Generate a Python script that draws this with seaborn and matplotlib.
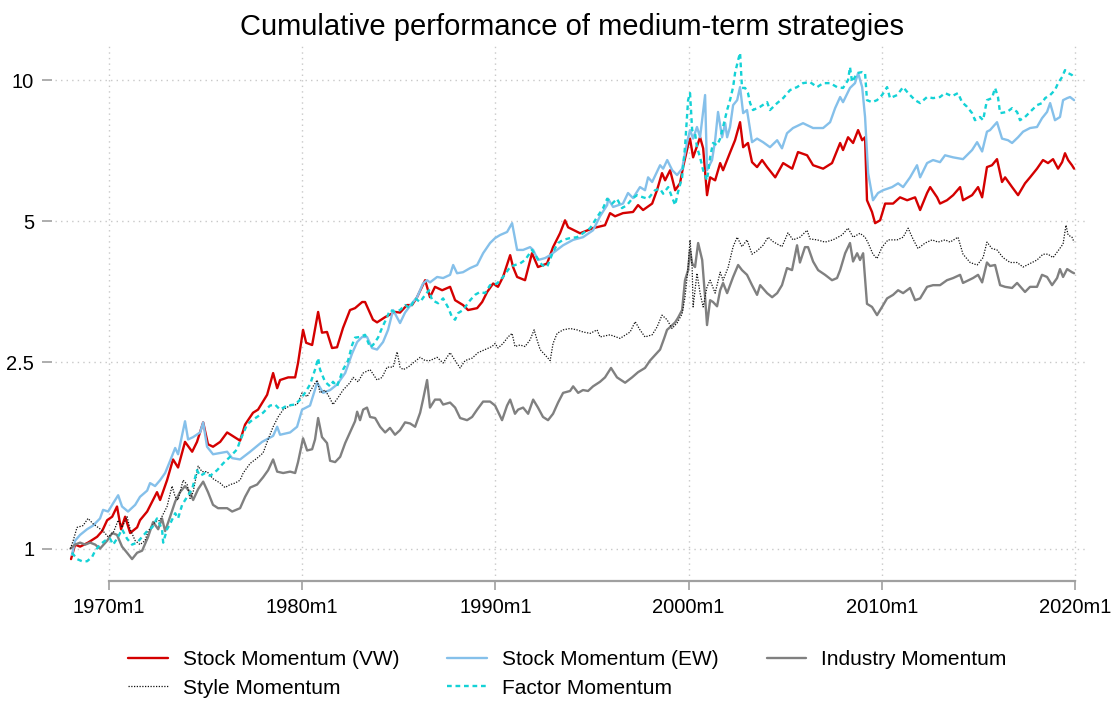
import matplotlib
matplotlib.use("Agg")
import matplotlib.pyplot as plt
import matplotlib.ticker as mticker
import pandas as pd
import seaborn as sns

# --- values (decimal year, cumulative value) ---
vw_years = [
    1968.03, 1968.24, 1968.5, 1968.91, 1969.38, 1969.64, 1969.9, 1970.16, 1970.41, 1970.62,
    1970.83, 1971.09, 1971.45, 1971.6, 1971.97, 1972.48, 1972.64, 1973.0, 1973.31, 1973.57,
    1973.93, 1974.3, 1974.55, 1974.87, 1975.12, 1975.38, 1975.75, 1976.11, 1976.78, 1977.04,
    1977.45, 1977.71, 1978.18, 1978.49, 1978.7, 1978.85, 1979.27, 1979.63, 1979.78, 1980.04,
    1980.2, 1980.51, 1980.82, 1981.02, 1981.28, 1981.54, 1981.8, 1982.11, 1982.47, 1982.73,
    1983.1, 1983.25, 1983.66, 1983.87, 1984.29, 1984.8, 1985.06, 1985.42, 1985.68, 1985.94,
    1986.36, 1986.61, 1986.87, 1987.24, 1987.65, 1987.91, 1988.32, 1988.58, 1989.05, 1989.31,
    1989.57, 1989.88, 1990.13, 1990.39, 1990.76, 1990.91, 1991.12, 1991.53, 1991.89, 1992.2,
    1992.67, 1992.98, 1993.34, 1993.6, 1993.76, 1994.38, 1995.05, 1995.67, 1995.93, 1996.19,
    1996.6, 1997.12, 1997.38, 1997.64, 1998.11, 1998.36, 1998.62, 1998.78, 1999.04, 1999.3,
    1999.55, 1999.71, 1999.97, 2000.07, 2000.23, 2000.59, 2000.75, 2000.95, 2001.11, 2001.37,
    2001.63, 2001.78, 2002.14, 2002.4, 2002.66, 2002.82, 2003.07, 2003.28, 2003.54, 2003.8,
    2004.06, 2004.48, 2004.89, 2005.36, 2005.66, 2006.13, 2006.44, 2006.96, 2007.42, 2007.84,
    2007.99, 2008.25, 2008.51, 2008.77, 2008.98, 2009.13, 2009.23, 2009.49, 2009.65, 2009.91,
    2010.17, 2010.58, 2010.94, 2011.31, 2011.72, 2011.98, 2012.34, 2012.5, 2012.86, 2013.01,
    2013.37, 2013.69, 2014.05, 2014.2, 2014.67, 2014.98, 2015.19, 2015.44, 2015.7, 2015.96,
    2016.22, 2016.38, 2016.74, 2017.05, 2017.41, 2017.67, 2018.03, 2018.34, 2018.6, 2018.86,
    2019.12, 2019.33, 2019.48, 2019.64, 2019.84, 2019.95,
]
vw_values = [
    0.95, 1.02, 1.01, 1.03, 1.06, 1.09, 1.15, 1.17, 1.23, 1.10,
    1.17, 1.08, 1.11, 1.15, 1.20, 1.32, 1.27, 1.40, 1.55, 1.49,
    1.69, 1.61, 1.69, 1.86, 1.67, 1.65, 1.69, 1.77, 1.70, 1.84,
    1.95, 1.98, 2.13, 2.37, 2.20, 2.29, 2.32, 2.32, 2.49, 2.93,
    2.75, 2.72, 3.20, 2.89, 2.90, 2.68, 2.69, 2.96, 3.23, 3.26,
    3.36, 3.36, 3.08, 3.04, 3.12, 3.20, 3.19, 3.31, 3.31, 3.44,
    3.74, 3.44, 3.62, 3.56, 3.62, 3.39, 3.31, 3.23, 3.26, 3.36,
    3.53, 3.68, 3.62, 3.80, 4.23, 3.99, 3.80, 3.74, 4.27, 3.99,
    4.06, 4.40, 4.71, 5.02, 4.85, 4.71, 4.83, 4.90, 5.20, 5.12,
    5.20, 5.23, 5.41, 5.28, 5.45, 5.82, 6.33, 6.11, 6.42, 5.82,
    6.02, 6.52, 7.26, 7.50, 6.84, 7.55, 7.15, 5.68, 6.20, 6.11,
    6.65, 6.42, 7.00, 7.44, 8.13, 7.19, 7.34, 6.68, 6.52, 6.75,
    6.52, 6.20, 6.65, 6.47, 7.02, 6.91, 6.58, 6.47, 6.65, 7.34,
    7.09, 7.55, 7.34, 7.82, 7.44, 7.55, 5.54, 5.23, 4.95, 5.02,
    5.45, 5.45, 5.62, 5.54, 5.62, 5.28, 5.74, 5.91, 5.62, 5.45,
    5.54, 5.68, 5.91, 5.54, 5.68, 5.91, 5.62, 6.52, 6.58, 6.78,
    6.06, 6.20, 5.91, 5.68, 6.02, 6.20, 6.47, 6.75, 6.65, 6.78,
    6.47, 6.68, 6.98, 6.75, 6.58, 6.47,
]

ew_years = [
    1968.08, 1968.24, 1968.5, 1968.86, 1969.17, 1969.53, 1969.69, 1969.95, 1970.21, 1970.47,
    1970.67, 1970.98, 1971.35, 1971.6, 1971.97, 1972.12, 1972.38, 1972.64, 1972.9, 1973.16,
    1973.42, 1973.57, 1973.93, 1974.09, 1974.35, 1974.71, 1974.87, 1975.07, 1975.38, 1975.75,
    1976.11, 1976.37, 1976.78, 1977.3, 1977.92, 1978.49, 1978.7, 1978.85, 1979.37, 1979.73,
    1979.99, 1980.4, 1980.77, 1981.08, 1981.44, 1981.8, 1982.22, 1982.58, 1982.84, 1983.1,
    1983.35, 1983.61, 1983.87, 1984.18, 1984.44, 1984.7, 1985.06, 1985.32, 1985.68, 1985.94,
    1986.25, 1986.46, 1986.61, 1986.98, 1987.29, 1987.65, 1987.81, 1988.01, 1988.32, 1988.69,
    1989.05, 1989.36, 1989.72, 1989.98, 1990.24, 1990.6, 1990.86, 1991.12, 1991.43, 1991.79,
    1991.95, 1992.2, 1992.57, 1992.83, 1993.19, 1993.5, 1994.02, 1994.53, 1995.05, 1995.41,
    1995.78, 1995.83, 1996.09, 1996.6, 1996.86, 1997.12, 1997.48, 1997.74, 1997.9, 1998.11,
    1998.52, 1998.68, 1998.89, 1999.15, 1999.4, 1999.66, 1999.92, 2000.07, 2000.23, 2000.43,
    2000.59, 2000.85, 2000.95, 2001.21, 2001.37, 2001.52, 2001.73, 2001.89, 2001.99, 2002.14,
    2002.3, 2002.51, 2002.66, 2002.82, 2003.02, 2003.28, 2003.54, 2003.85, 2004.21, 2004.58,
    2004.83, 2005.09, 2005.4, 2005.92, 2006.44, 2006.96, 2007.32, 2007.58, 2007.84, 2007.99,
    2008.35, 2008.61, 2008.77, 2008.98, 2009.13, 2009.29, 2009.54, 2009.8, 2010.06, 2010.53,
    2010.84, 2011.1, 2011.46, 2011.82, 2011.98, 2012.34, 2012.65, 2013.01, 2013.27, 2013.69,
    2014.2, 2014.67, 2014.93, 2015.19, 2015.44, 2015.6, 2015.96, 2016.22, 2016.53, 2016.74,
    2017.05, 2017.31, 2017.67, 2018.03, 2018.29, 2018.55, 2018.71, 2018.96, 2019.22, 2019.38,
    2019.59, 2019.74, 2019.95,
]
ew_values = [
    0.97, 1.04, 1.07, 1.10, 1.12, 1.16, 1.21, 1.20, 1.25, 1.30,
    1.23, 1.20, 1.24, 1.29, 1.33, 1.38, 1.36, 1.40, 1.45, 1.54,
    1.64, 1.59, 1.87, 1.71, 1.73, 1.77, 1.86, 1.65, 1.59, 1.60,
    1.61, 1.56, 1.55, 1.61, 1.69, 1.74, 1.82, 1.75, 1.77, 1.82,
    1.98, 2.02, 2.26, 2.15, 2.18, 2.24, 2.37, 2.61, 2.76, 2.83,
    2.83, 2.68, 2.66, 2.76, 2.93, 3.23, 3.03, 3.19, 3.34, 3.44,
    3.68, 3.74, 3.70, 3.80, 3.78, 3.84, 4.03, 3.87, 3.89, 3.97,
    4.03, 4.27, 4.49, 4.60, 4.67, 4.74, 4.95, 4.34, 4.34, 4.40,
    4.34, 4.13, 4.17, 4.23, 4.34, 4.44, 4.56, 4.62, 4.78, 5.12,
    5.41, 5.58, 5.36, 5.45, 5.74, 5.60, 5.91, 5.82, 6.20, 6.06,
    6.58, 6.47, 6.75, 6.42, 6.27, 6.47, 7.37, 7.82, 7.50, 7.94,
    7.55, 9.29, 6.42, 6.75, 7.44, 8.55, 7.55, 8.09, 7.55, 7.94,
    8.84, 9.06, 9.66, 8.50, 8.63, 7.37, 7.50, 7.37, 7.19, 7.44,
    7.15, 7.70, 7.90, 8.09, 7.90, 7.90, 8.13, 8.71, 9.20, 8.97,
    9.62, 9.85, 10.35, 9.66, 8.34, 6.33, 5.54, 5.74, 5.82, 5.91,
    6.02, 5.91, 6.20, 6.58, 6.20, 6.65, 6.75, 6.68, 6.91, 6.84,
    6.78, 7.09, 7.37, 7.04, 7.76, 7.82, 8.13, 7.50, 7.44, 7.34,
    7.55, 7.76, 7.90, 7.94, 8.29, 8.55, 8.93, 8.21, 8.34, 9.06,
    9.15, 9.20, 9.06,
]

industry_years = [
    1968.0, 1968.24, 1968.5, 1968.76, 1969.02, 1969.28, 1969.53, 1969.9, 1970.16, 1970.41,
    1970.67, 1970.93, 1971.19, 1971.45, 1971.71, 1972.02, 1972.28, 1972.54, 1972.74, 1972.9,
    1973.16, 1973.42, 1973.67, 1973.93, 1974.19, 1974.35, 1974.61, 1974.87, 1975.12, 1975.38,
    1975.64, 1976.11, 1976.37, 1976.78, 1977.04, 1977.3, 1977.66, 1977.97, 1978.23, 1978.49,
    1978.7, 1979.01, 1979.37, 1979.63, 1979.78, 1980.04, 1980.25, 1980.51, 1980.66, 1980.82,
    1981.02, 1981.28, 1981.44, 1981.7, 1981.96, 1982.22, 1982.47, 1982.73, 1982.84, 1982.99,
    1983.15, 1983.35, 1983.51, 1983.77, 1984.03, 1984.29, 1984.54, 1984.8, 1985.06, 1985.32,
    1985.58, 1985.84, 1986.1, 1986.25, 1986.46, 1986.61, 1986.87, 1987.13, 1987.29, 1987.65,
    1987.91, 1988.17, 1988.53, 1988.79, 1989.05, 1989.36, 1989.72, 1989.98, 1990.34, 1990.6,
    1990.76, 1991.01, 1991.17, 1991.43, 1991.69, 1991.95, 1992.2, 1992.46, 1992.72, 1992.98,
    1993.24, 1993.5, 1993.86, 1994.02, 1994.28, 1994.53, 1994.79, 1995.05, 1995.41, 1995.67,
    1995.98, 1996.29, 1996.71, 1997.07, 1997.38, 1997.74, 1998.0, 1998.26, 1998.52, 1998.73,
    1998.88, 1999.04, 1999.3, 1999.45, 1999.66, 1999.81, 1999.97, 2000.07, 2000.18, 2000.33,
    2000.49, 2000.7, 2000.85, 2000.95, 2001.11, 2001.26, 2001.47, 2001.63, 2001.78, 2001.99,
    2002.3, 2002.56, 2002.76, 2003.02, 2003.28, 2003.54, 2003.7, 2004.06, 2004.32, 2004.58,
    2004.83, 2005.09, 2005.35, 2005.61, 2005.76, 2006.02, 2006.18, 2006.44, 2006.7, 2007.06,
    2007.42, 2007.68, 2007.84, 2008.1, 2008.35, 2008.51, 2008.72, 2008.87, 2009.03, 2009.23,
    2009.49, 2009.75, 2010.01, 2010.27, 2010.58, 2010.84, 2011.1, 2011.46, 2011.72, 2011.98,
    2012.34, 2012.65, 2013.01, 2013.37, 2013.69, 2014.05, 2014.2, 2014.72, 2014.98, 2015.19,
    2015.44, 2015.6, 2015.86, 2016.12, 2016.38, 2016.74, 2017.0, 2017.41, 2017.67, 2018.03,
    2018.29, 2018.55, 2018.81, 2019.07, 2019.22, 2019.38, 2019.59, 2019.84, 2019.95,
]
industry_values = [
    1.00, 1.02, 1.03, 1.02, 1.03, 1.02, 1.00, 1.04, 1.08, 1.07,
    1.01, 0.98, 0.95, 0.98, 0.99, 1.06, 1.14, 1.10, 1.16, 1.09,
    1.17, 1.26, 1.32, 1.36, 1.32, 1.27, 1.34, 1.39, 1.32, 1.24,
    1.22, 1.22, 1.20, 1.22, 1.29, 1.35, 1.37, 1.42, 1.47, 1.55,
    1.46, 1.45, 1.46, 1.45, 1.53, 1.72, 1.62, 1.63, 1.71, 1.90,
    1.73, 1.68, 1.54, 1.53, 1.57, 1.68, 1.77, 1.87, 1.96, 1.88,
    1.98, 2.00, 1.91, 1.90, 1.82, 1.77, 1.81, 1.75, 1.79, 1.86,
    1.85, 1.82, 1.95, 2.08, 2.29, 2.00, 2.08, 2.08, 2.03, 2.05,
    2.00, 1.90, 1.88, 1.91, 1.98, 2.06, 2.06, 2.02, 1.88, 2.02,
    2.08, 1.94, 1.98, 2.00, 1.94, 2.08, 2.00, 1.91, 1.88, 1.94,
    2.05, 2.15, 2.17, 2.22, 2.15, 2.18, 2.17, 2.22, 2.27, 2.32,
    2.43, 2.32, 2.26, 2.32, 2.38, 2.43, 2.52, 2.59, 2.66, 2.81,
    2.93, 2.97, 3.04, 3.11, 3.23, 3.74, 3.93, 4.34, 4.06, 3.99,
    4.49, 4.13, 3.44, 3.00, 3.39, 3.36, 3.29, 3.56, 3.69, 3.51,
    3.80, 4.03, 3.93, 3.84, 3.65, 3.48, 3.65, 3.51, 3.44, 3.51,
    3.65, 3.97, 3.93, 4.44, 4.08, 4.40, 4.40, 4.10, 3.93, 3.84,
    3.74, 3.78, 3.93, 4.27, 4.49, 4.10, 4.27, 4.13, 4.27, 3.33,
    3.28, 3.15, 3.28, 3.42, 3.48, 3.56, 3.51, 3.60, 3.39, 3.42,
    3.62, 3.65, 3.65, 3.74, 3.78, 3.84, 3.69, 3.78, 3.84, 3.70,
    4.08, 4.01, 4.03, 3.65, 3.62, 3.60, 3.69, 3.53, 3.62, 3.62,
    3.84, 3.80, 3.65, 3.78, 3.95, 3.80, 3.95, 3.89, 3.87,
]

style_years = [
    1968.0, 1968.14, 1968.34, 1968.65, 1968.91, 1969.17, 1969.43, 1969.69, 1969.95, 1970.21,
    1970.47, 1970.67, 1970.93, 1971.09, 1971.35, 1971.6, 1971.86, 1972.02, 1972.38, 1972.64,
    1973.0, 1973.26, 1973.42, 1973.57, 1973.83, 1974.04, 1974.19, 1974.35, 1974.61, 1974.81,
    1975.07, 1975.38, 1975.75, 1976.0, 1976.26, 1976.52, 1976.78, 1976.94, 1977.3, 1977.66,
    1977.97, 1978.23, 1978.49, 1978.75, 1979.01, 1979.37, 1979.73, 1979.99, 1980.25, 1980.56,
    1980.77, 1980.92, 1981.18, 1981.44, 1981.59, 1981.85, 1982.11, 1982.47, 1982.63, 1982.89,
    1983.15, 1983.51, 1983.87, 1984.13, 1984.39, 1984.7, 1984.91, 1985.06, 1985.22, 1985.48,
    1985.73, 1986.1, 1986.36, 1986.61, 1986.98, 1987.29, 1987.65, 1987.91, 1988.17, 1988.43,
    1988.79, 1989.1, 1989.46, 1989.82, 1989.98, 1990.13, 1990.39, 1990.65, 1990.86, 1991.01,
    1991.27, 1991.53, 1991.79, 1992.0, 1992.15, 1992.31, 1992.57, 1992.83, 1992.98, 1993.19,
    1993.5, 1993.86, 1994.22, 1994.53, 1994.9, 1995.26, 1995.41, 1995.93, 1996.45, 1996.97,
    1997.23, 1997.48, 1997.74, 1998.11, 1998.36, 1998.62, 1998.88, 1999.14, 1999.4, 1999.66,
    1999.81, 1999.97, 2000.07, 2000.18, 2000.23, 2000.43, 2000.59, 2000.75, 2000.95, 2001.11,
    2001.37, 2001.63, 2001.78, 2002.04, 2002.3, 2002.51, 2002.76, 2003.02, 2003.28, 2003.54,
    2003.85, 2004.11, 2004.37, 2004.83, 2005.14, 2005.4, 2005.76, 2006.13, 2006.28, 2006.65,
    2007.06, 2007.47, 2007.94, 2008.25, 2008.51, 2008.87, 2009.13, 2009.29, 2009.54, 2009.75,
    2010.01, 2010.32, 2010.79, 2011.1, 2011.36, 2011.61, 2011.87, 2012.24, 2012.6, 2012.91,
    2013.27, 2013.53, 2013.94, 2014.2, 2014.57, 2014.93, 2015.24, 2015.44, 2015.7, 2015.96,
    2016.27, 2016.64, 2017.0, 2017.31, 2017.67, 2018.03, 2018.34, 2018.6, 2018.86, 2019.12,
    2019.38, 2019.53, 2019.64, 2019.84, 2019.95,
]
style_values = [
    1.00, 1.04, 1.11, 1.12, 1.16, 1.13, 1.11, 1.09, 1.06, 1.08,
    1.15, 1.11, 1.17, 1.10, 1.04, 1.02, 1.04, 1.09, 1.14, 1.15,
    1.23, 1.36, 1.29, 1.27, 1.40, 1.37, 1.28, 1.32, 1.50, 1.46,
    1.46, 1.41, 1.38, 1.35, 1.37, 1.38, 1.40, 1.45, 1.52, 1.56,
    1.60, 1.71, 1.82, 1.91, 1.98, 2.02, 2.03, 2.15, 2.11, 2.22,
    2.29, 2.15, 2.18, 2.09, 2.03, 2.10, 2.18, 2.26, 2.32, 2.27,
    2.37, 2.41, 2.29, 2.32, 2.44, 2.44, 2.63, 2.44, 2.41, 2.44,
    2.49, 2.56, 2.52, 2.52, 2.56, 2.49, 2.62, 2.52, 2.43, 2.52,
    2.55, 2.62, 2.66, 2.70, 2.74, 2.68, 2.74, 2.83, 2.88, 2.70,
    2.72, 2.70, 2.79, 2.93, 2.79, 2.66, 2.59, 2.52, 2.74, 2.88,
    2.93, 2.95, 2.93, 2.90, 2.88, 2.93, 2.83, 2.86, 2.81, 2.90,
    3.05, 2.93, 2.83, 2.86, 2.97, 3.15, 3.08, 2.95, 3.03, 3.17,
    3.44, 3.98, 4.56, 3.98, 3.28, 3.87, 3.51, 3.28, 3.62, 3.74,
    3.51, 3.89, 3.74, 3.98, 4.41, 4.62, 4.41, 4.56, 4.25, 4.32,
    4.44, 4.62, 4.52, 4.41, 4.72, 4.56, 4.62, 4.78, 4.58, 4.56,
    4.51, 4.56, 4.67, 4.83, 4.62, 4.71, 4.62, 4.49, 4.25, 4.16,
    4.40, 4.56, 4.56, 4.62, 4.83, 4.58, 4.37, 4.49, 4.56, 4.51,
    4.56, 4.51, 4.62, 4.25, 4.08, 4.03, 4.18, 4.51, 4.37, 4.34,
    4.18, 4.08, 4.08, 3.99, 4.06, 4.13, 4.25, 4.25, 4.18, 4.32,
    4.47, 4.90, 4.67, 4.62, 4.51,
]

factor_years = [
    1968.08, 1968.34, 1968.6, 1968.86, 1969.12, 1969.28, 1969.53, 1969.79, 1970.05, 1970.21,
    1970.47, 1970.67, 1970.93, 1971.19, 1971.45, 1971.71, 1971.97, 1972.23, 1972.48, 1972.74,
    1972.8, 1973.0, 1973.16, 1973.42, 1973.57, 1973.78, 1974.04, 1974.3, 1974.55, 1974.71,
    1974.97, 1975.23, 1975.59, 1975.9, 1976.26, 1976.63, 1976.78, 1977.14, 1977.4, 1977.66,
    1977.97, 1978.33, 1978.59, 1978.85, 1979.21, 1979.63, 1979.89, 1980.14, 1980.4, 1980.66,
    1980.82, 1980.92, 1981.18, 1981.44, 1981.59, 1981.8, 1982.11, 1982.37, 1982.58, 1982.73,
    1982.99, 1983.25, 1983.51, 1983.66, 1983.92, 1984.13, 1984.39, 1984.54, 1984.8, 1985.06,
    1985.32, 1985.58, 1985.84, 1986.1, 1986.36, 1986.56, 1986.72, 1987.03, 1987.29, 1987.55,
    1987.75, 1987.91, 1988.06, 1988.32, 1988.69, 1988.94, 1989.2, 1989.46, 1989.72, 1990.08,
    1990.39, 1990.76, 1991.01, 1991.27, 1991.53, 1991.89, 1992.15, 1992.41, 1992.67, 1992.98,
    1993.24, 1993.5, 1993.86, 1994.22, 1994.53, 1994.9, 1995.26, 1995.57, 1995.78, 1996.04,
    1996.29, 1996.55, 1996.81, 1997.07, 1997.33, 1997.64, 1997.9, 1998.26, 1998.52, 1998.68,
    1998.94, 1999.14, 1999.3, 1999.45, 1999.66, 1999.81, 1999.97, 2000.07, 2000.18, 2000.33,
    2000.43, 2000.59, 2000.75, 2000.95, 2001.11, 2001.26, 2001.47, 2001.63, 2001.78, 2001.99,
    2002.14, 2002.3, 2002.4, 2002.56, 2002.66, 2002.76, 2002.92, 2003.07, 2003.18, 2003.33,
    2003.7, 2004.06, 2004.21, 2004.58, 2004.89, 2005.25, 2005.61, 2005.92, 2006.28, 2006.65,
    2006.96, 2007.32, 2007.68, 2007.99, 2008.25, 2008.35, 2008.46, 2008.72, 2008.98, 2009.13,
    2009.23, 2009.49, 2009.75, 2010.01, 2010.27, 2010.42, 2010.79, 2011.1, 2011.36, 2011.72,
    2011.98, 2012.34, 2012.65, 2013.01, 2013.27, 2013.63, 2013.94, 2014.15, 2014.41, 2014.67,
    2014.82, 2015.08, 2015.24, 2015.44, 2015.7, 2015.86, 2016.01, 2016.12, 2016.48, 2016.74,
    2017.0, 2017.15, 2017.41, 2017.67, 2018.03, 2018.29, 2018.45, 2018.71, 2018.96, 2019.12,
    2019.33, 2019.48, 2019.64, 2019.84, 2019.95,
]
factor_values = [
    0.98, 0.95, 0.94, 0.94, 0.96, 0.99, 1.02, 1.04, 1.05, 1.02,
    1.06, 1.10, 1.05, 1.02, 1.03, 1.06, 1.09, 1.11, 1.16, 1.10,
    1.03, 1.10, 1.13, 1.19, 1.16, 1.24, 1.29, 1.34, 1.47, 1.43,
    1.45, 1.43, 1.47, 1.52, 1.57, 1.63, 1.70, 1.84, 1.88, 1.91,
    1.95, 2.02, 2.03, 1.98, 2.02, 2.03, 2.08, 2.15, 2.24, 2.41,
    2.55, 2.41, 2.27, 2.22, 2.27, 2.22, 2.41, 2.52, 2.72, 2.82,
    2.83, 2.86, 2.69, 2.72, 2.82, 2.96, 3.12, 3.23, 3.20, 3.23,
    3.31, 3.26, 3.42, 3.36, 3.48, 3.56, 3.39, 3.34, 3.42, 3.27,
    3.12, 3.08, 3.18, 3.23, 3.39, 3.48, 3.53, 3.51, 3.65, 3.68,
    3.80, 3.99, 4.03, 4.06, 4.13, 4.34, 4.18, 4.03, 3.99, 4.30,
    4.49, 4.56, 4.60, 4.62, 4.71, 4.83, 5.10, 5.33, 5.58, 5.45,
    5.58, 5.33, 5.41, 5.58, 5.68, 5.62, 5.58, 5.82, 5.86, 5.72,
    5.91, 5.62, 5.41, 5.77, 6.20, 7.19, 9.06, 9.38, 7.82, 7.70,
    7.19, 6.84, 6.42, 6.11, 6.84, 7.34, 7.26, 7.50, 7.94, 8.63,
    9.06, 9.66, 10.35, 11.03, 11.43, 9.62, 9.62, 9.38, 8.93, 8.63,
    8.77, 8.97, 8.63, 8.93, 9.15, 9.52, 9.66, 9.85, 9.90, 9.66,
    9.85, 9.85, 9.66, 9.62, 10.00, 10.66, 9.90, 10.35, 10.40, 10.35,
    9.06, 8.97, 9.06, 9.29, 9.66, 9.15, 9.29, 9.66, 9.38, 9.06,
    8.93, 9.20, 9.15, 9.20, 9.38, 9.24, 9.38, 8.97, 8.77, 8.50,
    8.21, 8.34, 8.21, 9.06, 9.15, 9.62, 9.20, 8.50, 8.55, 8.71,
    8.55, 8.21, 8.34, 8.55, 8.84, 8.93, 9.15, 9.29, 9.52, 9.85,
    10.15, 10.50, 10.35, 10.25, 10.10,
]

strategy_names = ["Stock Momentum (VW)", "Stock Momentum (EW)", "Industry Momentum",
                  "Style Momentum", "Factor Momentum"]
y_ticks = [1, 2.5, 5, 10]
y_tick_labels = ["1", "2.5", "5", "10"]
x_ticks = [1970, 1980, 1990, 2000, 2010, 2020]
x_tick_labels = [f"{y}m1" for y in x_ticks]

series = {
    "Stock Momentum (VW)": (vw_years, vw_values),
    "Stock Momentum (EW)": (ew_years, ew_values),
    "Industry Momentum": (industry_years, industry_values),
    "Style Momentum": (style_years, style_values),
    "Factor Momentum": (factor_years, factor_values),
}
line_styles = {
    "Stock Momentum (VW)": dict(color="#d40000", lw=1.7, ls="-"),
    "Stock Momentum (EW)": dict(color="#85c0ea", lw=1.7, ls="-"),
    "Industry Momentum": dict(color="#808080", lw=1.7, ls="-"),
    "Style Momentum": dict(color="#111111", lw=0.9, ls=(0, (1, 1.2))),
    "Factor Momentum": dict(color="#14d2d6", lw=1.7, ls=(0, (2, 1.6))),
}

frames = []
for name, (yrs, vals) in series.items():
    assert len(yrs) == len(vals), name
    frames.append(pd.DataFrame({"year": yrs, "value": vals, "strategy": name}))
df = pd.concat(frames, ignore_index=True)

sns.set_style("white")
plt.rcParams["font.family"] = ["Liberation Sans", "DejaVu Sans"]
plt.rcParams["text.color"] = "black"

W, H = 1115, 702
fig = plt.figure(figsize=(W / 100, H / 100), dpi=100)
ax = fig.add_axes([55 / W, (H - 581) / H, 1033 / W, 536 / H])

for name in strategy_names:
    st = line_styles[name]
    sns.lineplot(data=df[df["strategy"] == name], x="year", y="value", ax=ax,
                 color=st["color"], linewidth=st["lw"], linestyle=st["ls"],
                 estimator=None, sort=False, label=name)

ax.set_yscale("log")
ax.set_xlim(1967.2, 2020.67)
ax.set_ylim(0.853, 11.88)
ax.set_yticks(y_ticks)
ax.set_yticklabels(y_tick_labels)
ax.yaxis.set_minor_locator(mticker.NullLocator())
ax.set_xticks(x_ticks)
ax.set_xticklabels(x_tick_labels)
ax.set_xlabel("")
ax.set_ylabel("")

ax.grid(True, which="major", color="#c8c8c8", linestyle=(0, (1, 3)), linewidth=1.0)
for side in ["top", "right", "left"]:
    ax.spines[side].set_visible(False)
ax.spines["left"].set_position(("outward", 2))
ax.spines["bottom"].set_color("#a0a0a0")
ax.spines["bottom"].set_linewidth(1.6)
ax.spines["bottom"].set_bounds(1970, 2020)

ax.tick_params(axis="x", which="major", bottom=True, direction="out", length=6.5,
               width=1.2, color="#a0a0a0", pad=6, labelsize=14.5, labelcolor="black")
ax.tick_params(axis="y", which="major", left=True, direction="out", length=7,
               width=1.2, color="#a0a0a0", pad=6, labelsize=14.5, labelcolor="black")

ax.set_title("Cumulative performance of medium-term strategies", fontsize=21, pad=7,
             color="black")

handles, labels = ax.get_legend_handles_labels()
ax.get_legend().remove()
lookup = dict(zip(labels, handles))
order = ["Stock Momentum (VW)", "Style Momentum", "Stock Momentum (EW)",
         "Factor Momentum", "Industry Momentum"]
leg = fig.legend([lookup[k] for k in order], order, ncol=3, loc="center",
                 bbox_to_anchor=(0.509, 0.04), frameon=False, fontsize=15,
                 handlelength=1.9, handletextpad=0.72, columnspacing=2.3,
                 labelspacing=0.45)
for txt in leg.get_texts():
    txt.set_color("black")

fig.savefig("out.png", dpi=100)
